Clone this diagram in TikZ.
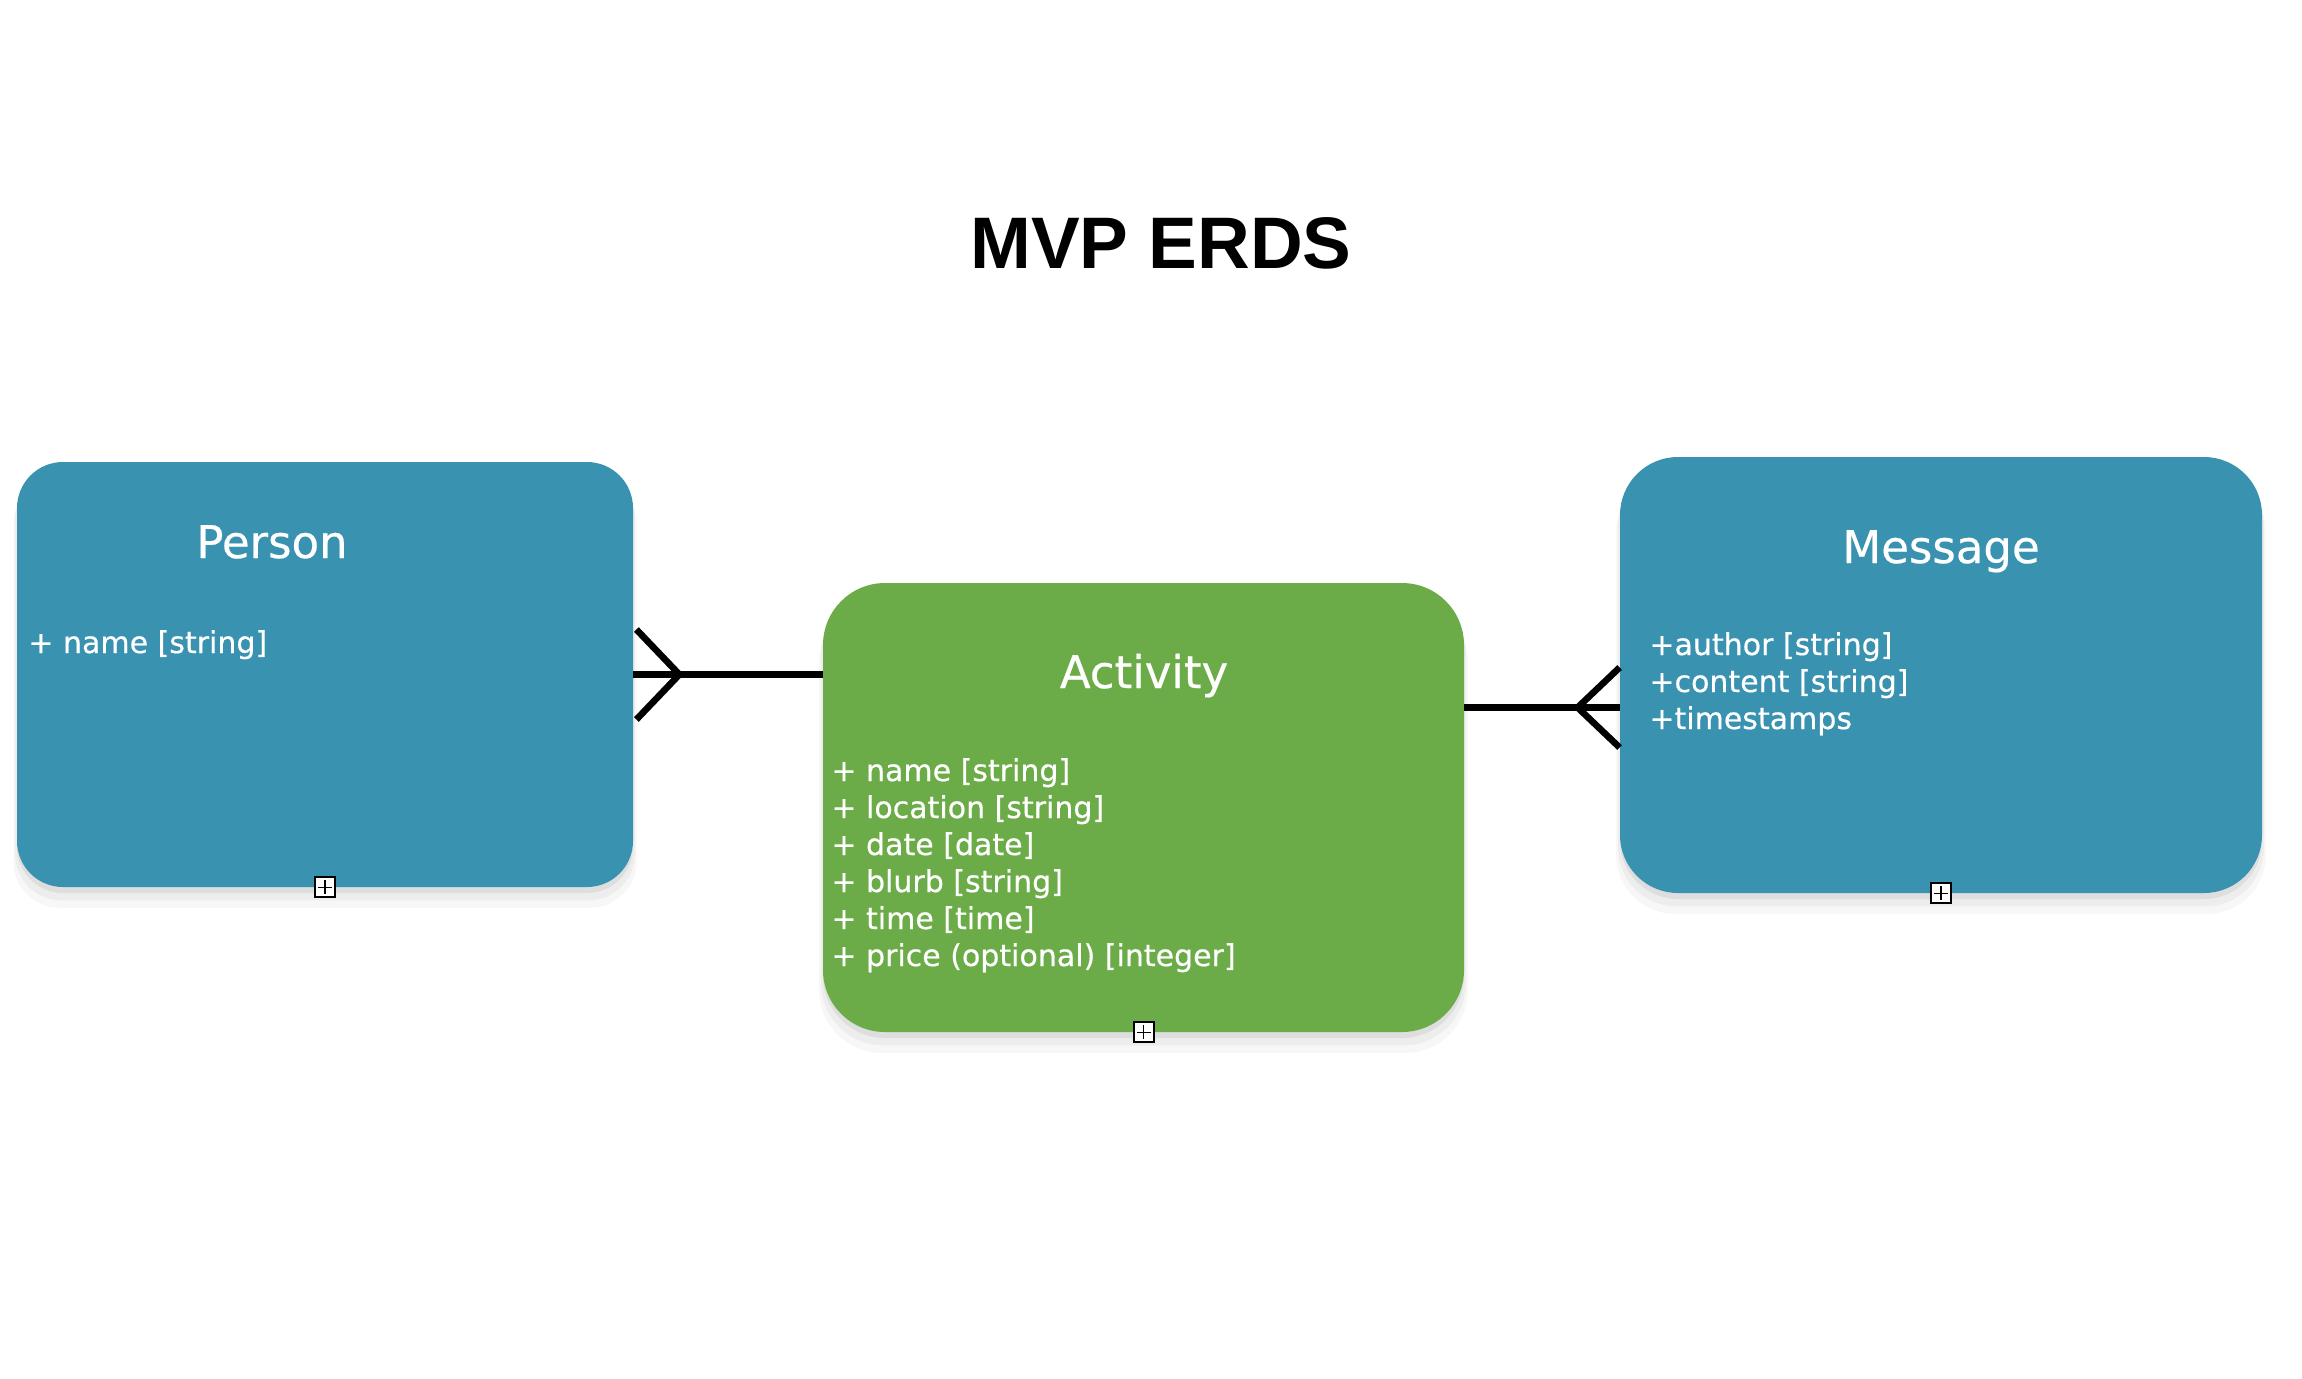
\documentclass[tikz,border=0pt]{standalone}
\usepackage{fontspec}
\setmainfont{DejaVu Sans}
\newfontfamily\entityfont[FakeBold=0.5]{DejaVu Sans}
\newfontfamily\headfont{Liberation Sans}
\usetikzlibrary{positioning,shadows,calc}

\definecolor{entityblue}{RGB}{56,146,176}
\definecolor{entitygreen}{RGB}{108,172,72}

\begin{document}
\begin{tikzpicture}[x=0.5pt,y=-0.5pt,line join=miter,
  softshadow/.style={
    general shadow={fill=black,opacity=.06,shadow yshift=-3pt,shadow scale=1},
    general shadow={fill=black,opacity=.04,shadow yshift=-6pt,shadow scale=1.006},
    general shadow={fill=black,opacity=.03,shadow yshift=-9pt,shadow scale=1.012}},
  entity/.style={rectangle,inner sep=0pt,softshadow},
  entitytitle/.style={text=white,anchor=base,inner sep=0pt,
    font=\entityfont\fontsize{22.5}{27}\selectfont},
  attrs/.style={text=white,align=left,anchor=base west,inner sep=0pt,
    font=\entityfont\fontsize{15}{18.5}\selectfont},
  crowline/.style={line width=3.3pt},
  expander/.style={draw,fill=white,line width=1pt,minimum size=10pt,inner sep=0pt,
    path picture={\draw[line width=.8pt]
      ([yshift=-1.5pt]path picture bounding box.north) -- ([yshift=1.5pt]path picture bounding box.south)
      ([xshift=1.5pt]path picture bounding box.west) -- ([xshift=-1.5pt]path picture bounding box.east);}}
]
 % page size
 \useasboundingbox (0,0) rectangle (2302,1378);
 \fill[white] (0,0) rectangle (2302,1378);

 % heading
 \node[anchor=base,inner sep=0pt,font=\headfont\bfseries\fontsize{36.5}{44}\selectfont]
   (heading) at (1161,268) {MVP ERDS};

 % the three entities
 \node[entity,fill=entityblue,minimum width=308pt,minimum height=212.5pt,
   rounded corners=23pt] (person) at (325,674.5) {};
 \node[entity,fill=entitygreen,minimum width=320.5pt,minimum height=224.5pt,
   rounded corners=31pt] (activity) at (1143.5,807.5) {};
 \node[entity,fill=entityblue,minimum width=321pt,minimum height=218pt,
   rounded corners=29pt] (message) at (1941,675) {};

 % entity titles and attributes (base = last line)
 \node[entitytitle] (person-title) at (272,558) {Person};
 \node[attrs] (person-attrs) at (28,653) {+ name [string]};

 \node[entitytitle] (activity-title) at (1144,688) {Activity};
 \node[attrs] (activity-attrs) at (831,966) {+ name [string]\\
   + location [string]\\
   + date [date]\\
   + blurb [string]\\
   + time [time]\\
   + price (optional) [integer]};

 \node[entitytitle] (message-title) at (1941,563) {Message};
 \node[attrs] (message-attrs) at (1649,729) {+author [string]\\
   +content [string]\\
   +timestamps};

 % expand markers
 \node[expander] (person-expand) at (person.south) {};
 \node[expander] (activity-expand) at (activity.south) {};
 \node[expander] (message-expand) at (message.south) {};

 % person -- activity, many on the person side
 \draw[crowline] (person.east) -- (person.east -| activity.west);
 \draw[crowline] ($(person.east)+(3,-45)$) -- ($(person.east)+(46,0)$)
   -- ($(person.east)+(3,45)$);

 % activity -- message, many on the message side
 \coordinate (message-foot) at ($(message.west)+(0,32.5)$);
 \draw[crowline] (message-foot -| activity.east) -- (message-foot);
 \draw[crowline] ($(message-foot)+(0,-40)$) -- ($(message-foot)+(-42,0)$)
   -- ($(message-foot)+(0,40)$);
\end{tikzpicture}
\end{document}
